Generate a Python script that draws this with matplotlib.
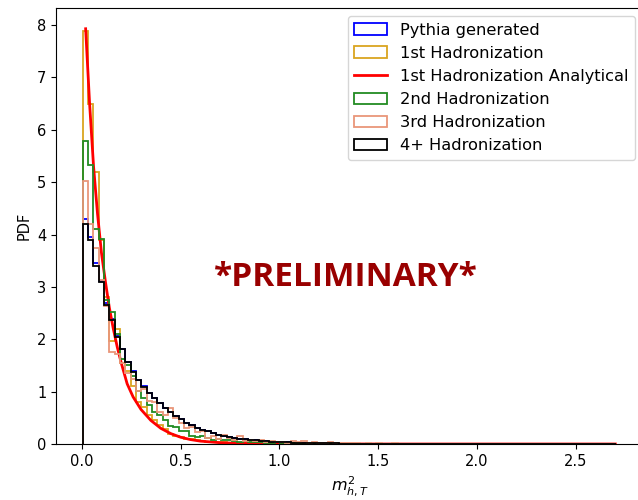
import numpy as np
import matplotlib
matplotlib.use("Agg")
import matplotlib.pyplot as plt

# 100 bins between the min and max m^2_{h,T}
bin_lo = 0.005
bin_hi = 2.705
n_bins = 100

# normalised histogram heights (per bin)
pythia = [4.30, 3.95, 3.45, 3.12, 2.70, 2.38, 2.06, 1.82, 1.57, 1.39, 1.22, 1.10, 0.98, 0.88, 0.78, 0.69, 0.61, 0.54, 0.47, 0.41, 0.36, 0.31, 0.27, 0.24, 0.21,
          0.18, 0.16, 0.14, 0.12, 0.105, 0.092, 0.081, 0.071, 0.062, 0.054, 0.047, 0.041, 0.036, 0.032, 0.028, 0.025, 0.022, 0.019, 0.017, 0.015, 0.013, 0.012, 0.010, 0.009, 0.008,
          0.007, 0.006, 0.006, 0.005, 0.005, 0.004, 0.004, 0.003, 0.003, 0.003, 0.002, 0.002, 0.002, 0.002, 0.001, 0.001, 0.001, 0.001, 0.001, 0.001, 0.001, 0.001, 0.0, 0.001, 0.0,
          0.0, 0.001, 0.0, 0.0, 0.001, 0.0, 0.0, 0.0, 0.0, 0.001, 0.0, 0.0, 0.0, 0.0, 0.0, 0.0, 0.0, 0.0, 0.0, 0.0, 0.0, 0.0, 0.0, 0.0, 0.0]

had_1st = [7.88, 6.50, 5.20, 3.90, 2.80, 1.97, 2.20, 1.55, 1.40, 1.10, 0.80, 0.71, 0.55, 0.45, 0.36, 0.28, 0.20, 0.16, 0.14, 0.10, 0.09, 0.07, 0.05, 0.04, 0.04,
           0.03, 0.03, 0.02, 0.02, 0.015, 0.012, 0.010, 0.010, 0.008, 0.006, 0.005, 0.005, 0.004, 0.003, 0.003, 0.002, 0.002, 0.001, 0.002, 0.001, 0.001, 0.0, 0.001, 0.0, 0.0,
           0.0, 0.0, 0.0, 0.0, 0.0, 0.0, 0.0, 0.0, 0.0, 0.0, 0.0, 0.0, 0.0, 0.0, 0.0, 0.0, 0.0, 0.0, 0.0, 0.0, 0.0, 0.0, 0.0, 0.0, 0.0,
           0.0, 0.0, 0.0, 0.0, 0.0, 0.0, 0.0, 0.0, 0.0, 0.0, 0.0, 0.0, 0.0, 0.0, 0.0, 0.0, 0.0, 0.0, 0.0, 0.0, 0.0, 0.0, 0.0, 0.0, 0.0]

had_2nd = [5.78, 5.33, 4.10, 3.92, 2.75, 2.52, 2.10, 1.62, 1.50, 1.30, 1.02, 0.88, 0.75, 0.62, 0.55, 0.45, 0.34, 0.33, 0.24, 0.25, 0.16, 0.14, 0.15, 0.12, 0.08,
           0.09, 0.07, 0.08, 0.05, 0.04, 0.05, 0.03, 0.03, 0.03, 0.02, 0.02, 0.03, 0.015, 0.015, 0.010, 0.012, 0.008, 0.010, 0.006, 0.005, 0.006, 0.004, 0.005, 0.003, 0.002,
           0.003, 0.002, 0.002, 0.001, 0.002, 0.001, 0.001, 0.0, 0.001, 0.0, 0.001, 0.0, 0.0, 0.0, 0.0, 0.0, 0.0, 0.0, 0.0, 0.0, 0.0, 0.0, 0.0, 0.0, 0.0,
           0.0, 0.0, 0.0, 0.0, 0.0, 0.0, 0.0, 0.0, 0.0, 0.0, 0.0, 0.0, 0.0, 0.0, 0.0, 0.0, 0.0, 0.0, 0.0, 0.0, 0.0, 0.0, 0.0, 0.0, 0.0]

had_3rd = [5.03, 4.20, 3.75, 3.14, 2.63, 1.75, 1.72, 1.55, 1.35, 1.25, 1.02, 1.05, 0.82, 0.80, 0.62, 0.55, 0.68, 0.50, 0.40, 0.30, 0.33, 0.22, 0.25, 0.12, 0.15,
           0.10, 0.18, 0.12, 0.08, 0.15, 0.06, 0.07, 0.05, 0.08, 0.04, 0.05, 0.03, 0.04, 0.02, 0.05, 0.03, 0.06, 0.02, 0.03, 0.02, 0.01, 0.03, 0.01, 0.02, 0.01,
           0.01, 0.02, 0.0, 0.01, 0.0, 0.01, 0.0, 0.0, 0.01, 0.0, 0.0, 0.0, 0.0, 0.0, 0.0, 0.0, 0.0, 0.0, 0.0, 0.0, 0.0, 0.0, 0.0, 0.0, 0.0,
           0.0, 0.0, 0.0, 0.0, 0.0, 0.0, 0.0, 0.0, 0.0, 0.0, 0.0, 0.0, 0.0, 0.0, 0.0, 0.0, 0.0, 0.0, 0.0, 0.0, 0.0, 0.0, 0.0, 0.0, 0.0]

had_4plus = [4.20, 3.90, 3.40, 3.09, 2.66, 2.36, 2.05, 1.81, 1.56, 1.38, 1.22, 1.09, 0.97, 0.88, 0.78, 0.69, 0.61, 0.54, 0.47, 0.41, 0.36, 0.31, 0.27, 0.24, 0.21,
             0.18, 0.16, 0.14, 0.12, 0.105, 0.092, 0.081, 0.071, 0.062, 0.054, 0.047, 0.041, 0.036, 0.032, 0.028, 0.025, 0.022, 0.019, 0.017, 0.015, 0.013, 0.012, 0.010, 0.009, 0.008,
             0.007, 0.006, 0.006, 0.005, 0.005, 0.004, 0.004, 0.003, 0.003, 0.003, 0.002, 0.002, 0.002, 0.002, 0.001, 0.001, 0.001, 0.001, 0.001, 0.001, 0.001, 0.001, 0.0, 0.001, 0.0,
             0.0, 0.001, 0.0, 0.0, 0.001, 0.0, 0.0, 0.0, 0.0, 0.001, 0.0, 0.0, 0.0, 0.0, 0.0, 0.0, 0.0, 0.0, 0.0, 0.0, 0.0, 0.0, 0.0, 0.0, 0.0]

# analytical 1st hadronization curve
ana_x = [0.02, 0.04, 0.06, 0.08, 0.10, 0.12, 0.14, 0.16, 0.18, 0.20, 0.23, 0.26, 0.30, 0.35, 0.40, 0.45, 0.50, 0.55, 0.60, 0.70, 0.80, 1.00, 1.50, 2.00, 2.70]
ana_y = [7.93, 6.50, 5.30, 4.40, 3.65, 3.10, 2.60, 2.20, 1.85, 1.55, 1.15, 0.90, 0.66, 0.45, 0.30, 0.20, 0.13, 0.085, 0.055, 0.025, 0.012, 0.003, 0.0, 0.0, 0.0]

edges = np.linspace(bin_lo, bin_hi, n_bins + 1)
centers = 0.5 * (edges[1:] + edges[:-1])

fig = plt.figure(figsize=(6.38, 5.0), dpi=100)
ax = fig.add_axes([56 / 638, 56 / 500, 587 / 638, 436 / 500])

ax.hist(centers, bins=edges, weights=pythia, histtype="step", color="blue", lw=1.3, label="Pythia generated")
ax.hist(centers, bins=edges, weights=had_1st, histtype="step", color="goldenrod", lw=1.3, label="1st Hadronization")
ax.plot(ana_x, ana_y, color="red", lw=2, label="1st Hadronization Analytical")
ax.hist(centers, bins=edges, weights=had_2nd, histtype="step", color="forestgreen", lw=1.3, label="2nd Hadronization")
ax.hist(centers, bins=edges, weights=had_3rd, histtype="step", color="darksalmon", lw=1.3, label="3rd Hadronization")
ax.hist(centers, bins=edges, weights=had_4plus, histtype="step", color="black", lw=1.3, label="4+ Hadronization")

ax.set_xlabel(r"$m^2_{h,T}$", fontsize=11.5)
ax.set_ylabel("PDF", fontsize=10.5)
ax.tick_params(labelsize=10.5)
ax.legend(loc="upper right", fontsize=11.7)

ax.text(0.494, 0.383, "*PRELIMINARY*", transform=ax.transAxes, ha="center", va="center",
        fontsize=24, fontweight="bold", family="Open Sans", color="#990000")

fig.savefig("out.png", dpi=100)
